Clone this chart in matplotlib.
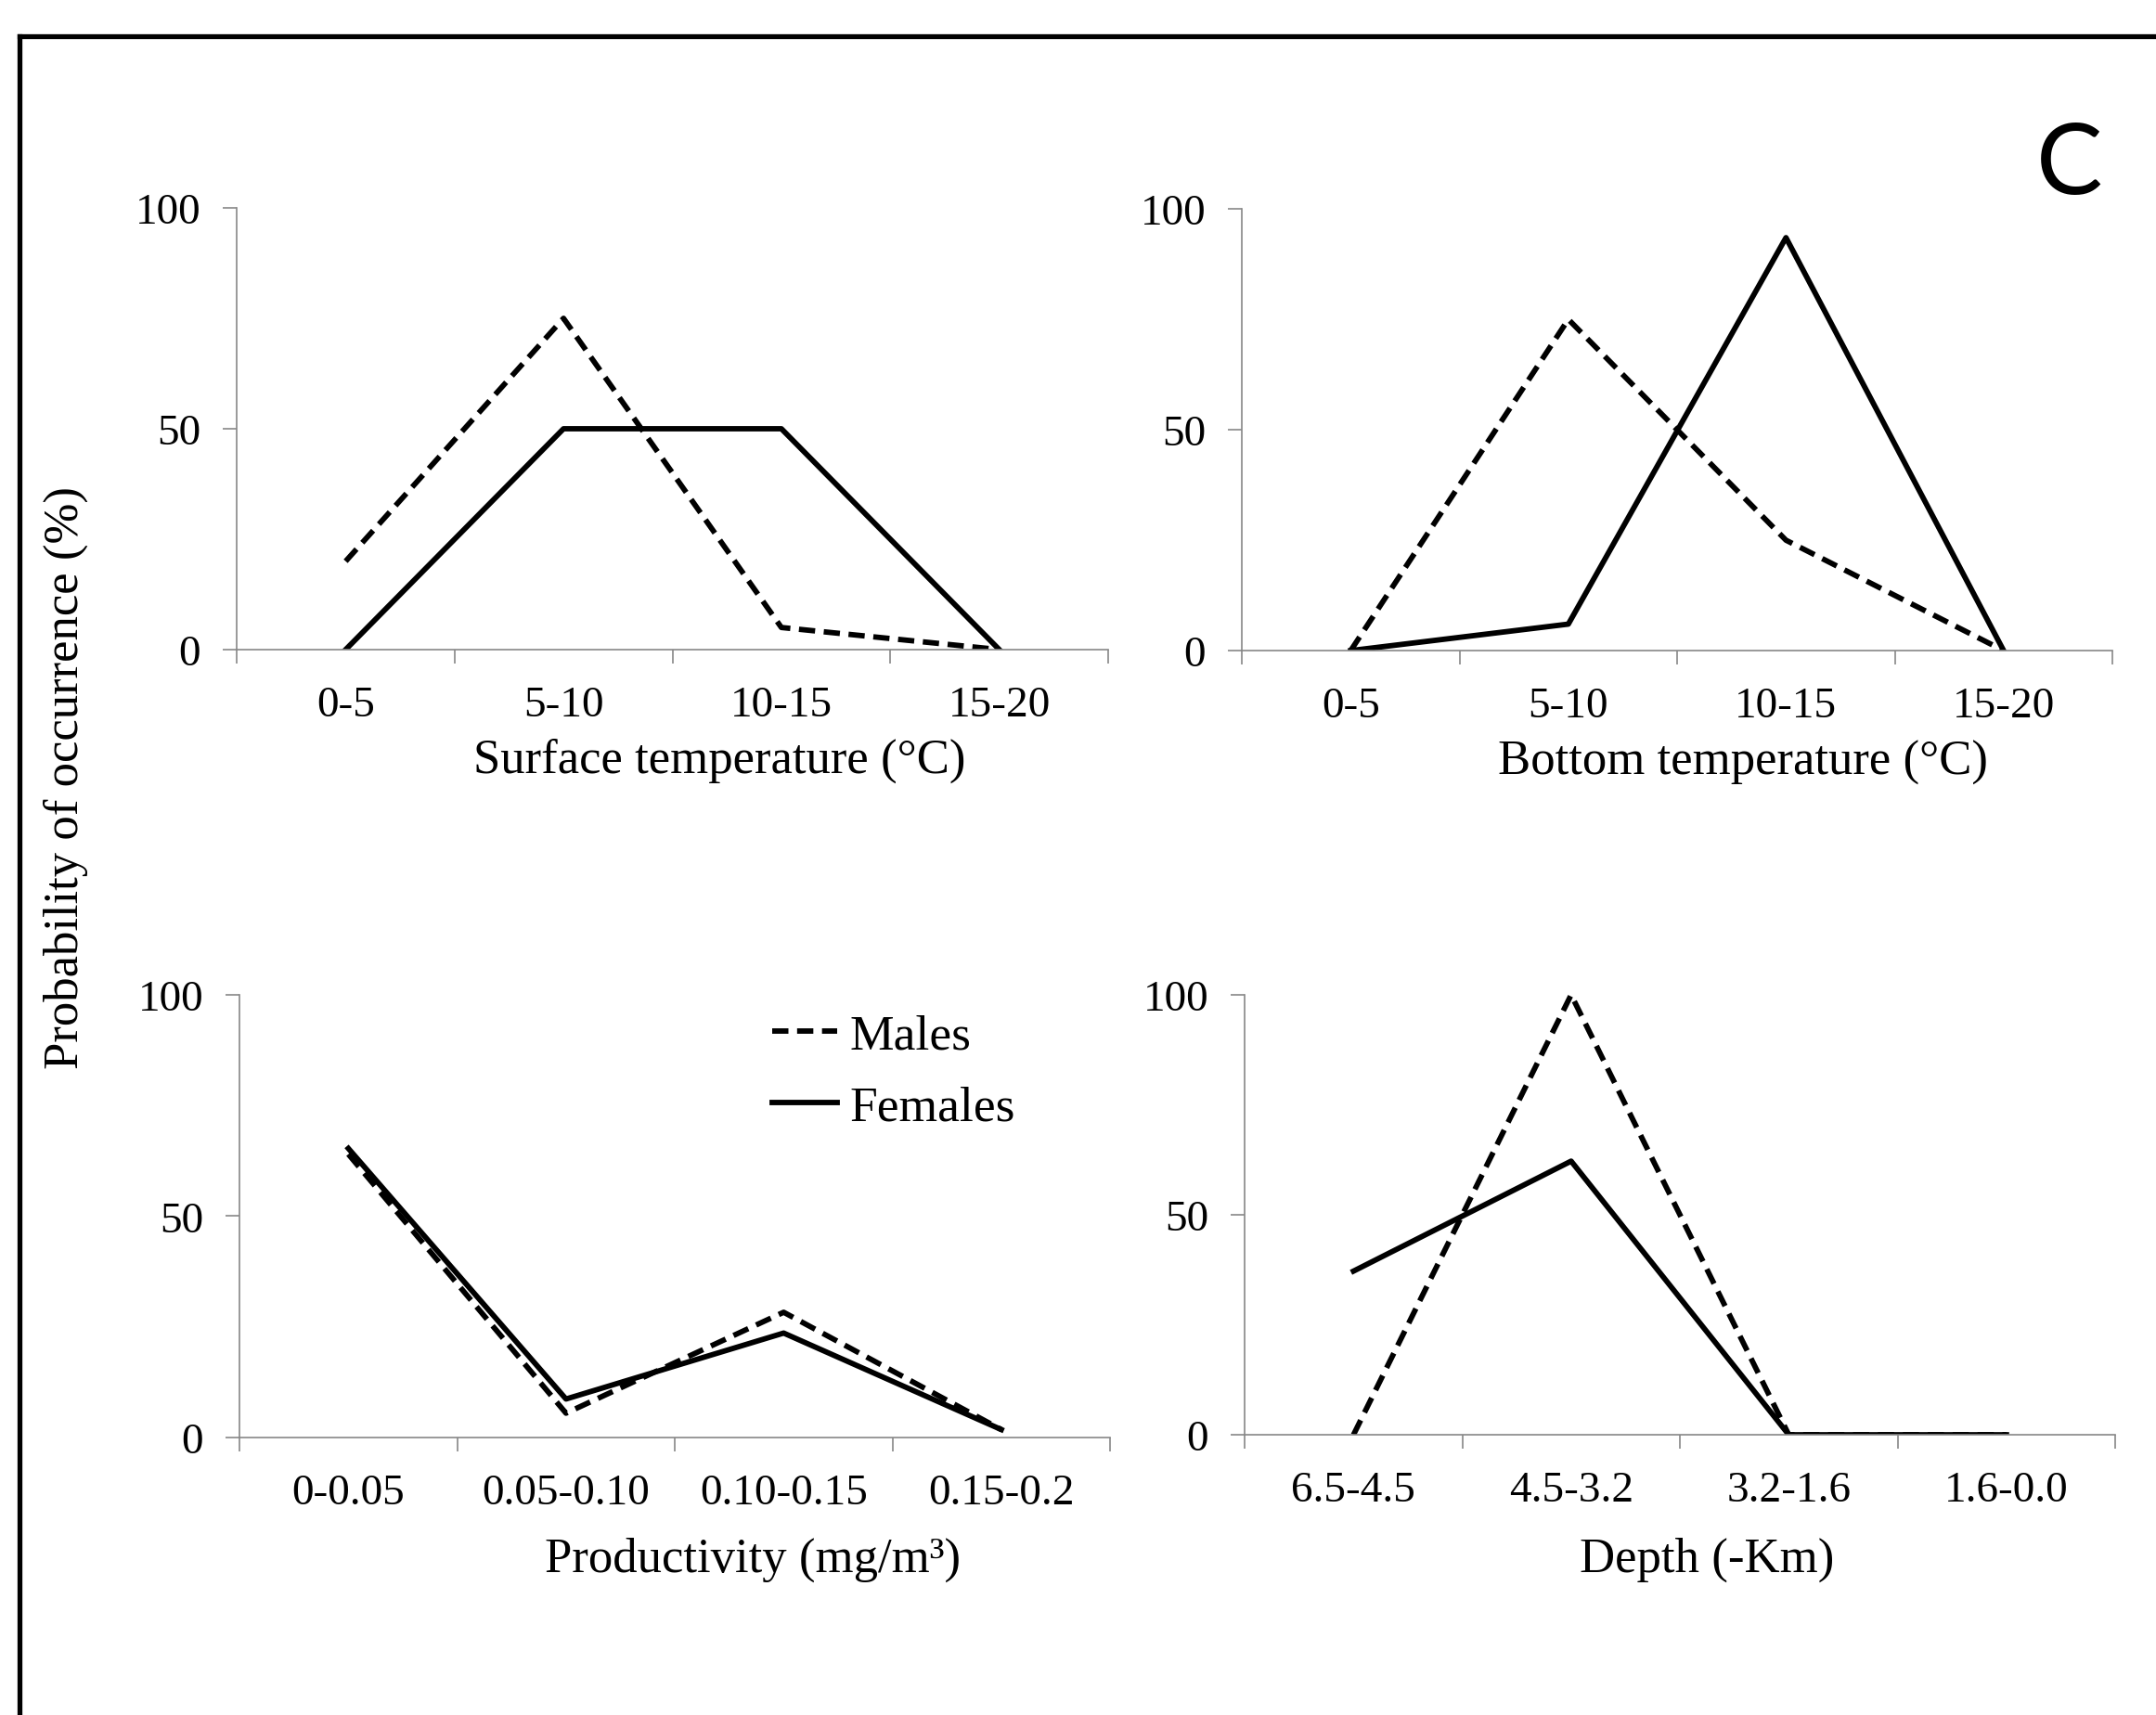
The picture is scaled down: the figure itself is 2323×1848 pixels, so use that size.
import matplotlib
matplotlib.use('Agg')
import matplotlib.pyplot as plt
from matplotlib.lines import Line2D
import numpy as np

# Datos (probabilidad de ocurrencia, %)
surface_cats = ['0-5', '5-10', '10-15', '15-20']
surface_males = [20, 75, 5, 0]
surface_females = [0, 50, 50, 0]

bottom_cats = ['0-5', '5-10', '10-15', '15-20']
bottom_males = [0, 75, 25, 0]
bottom_females = [0, 6, 93.5, 0]

prod_cats = ['0-0.05', '0.05-0.10', '0.10-0.15', '0.15-0.2']
prod_males = [64, 5.5, 28.3, 1.8]
prod_females = [65.3, 8.7, 23.6, 1.8]

depth_cats = ['6.5-4.5', '4.5-3.2', '3.2-1.6', '1.6-0.0']
depth_males = [0, 100, 0, 0]
depth_females = [37.2, 62.2, 0, 0]

plt.rcParams['font.family'] = ['Liberation Serif', 'DejaVu Serif']

fig = plt.figure(figsize=(23.23, 18.49), dpi=100)

axis_gray = '#888888'
lw = 4.2
dash = (0, (3.0, 1.6))

panels = [
    ([0.1098, 0.6209, 0.4042, 0.2574], surface_cats, surface_males, surface_females,
     'Surface temperature (°C)', 0.554, -0.250),
    ([0.5760, 0.6203, 0.4038, 0.2574], bottom_cats, bottom_males, bottom_females,
     'Bottom temperature (°C)', 0.576, -0.252),
    ([0.1111, 0.1617, 0.4038, 0.2580], prod_cats, prod_males, prod_females,
     'Productivity (mg/m³)', 0.590, -0.275),
    ([0.5773, 0.1633, 0.4038, 0.2564], depth_cats, depth_males, depth_females,
     'Depth (-Km)', 0.531, -0.282),
]

axes = []
for rect, cats, males, females, xlabel, xlab_x, xlab_y in panels:
    ax = fig.add_axes(rect)
    x = np.arange(len(cats)) + 0.5
    ax.plot(x, males, color='black', lw=lw, linestyle=dash, label='Males')
    ax.plot(x, females, color='black', lw=lw, label='Females')
    ax.set_xlim(0, len(cats))
    ax.set_ylim(0, 100)
    ax.set_yticks([0, 50, 100])
    ax.set_xticks(np.arange(len(cats) + 1))
    ax.set_xticklabels([])
    ax.set_xticks(x, minor=True)
    ax.set_xticklabels(cats, minor=True)
    ax.tick_params(axis='x', which='major', direction='out', length=11, width=1.2,
                   color=axis_gray)
    ax.tick_params(axis='x', which='minor', length=0, pad=28, labelsize=34)
    ax.tick_params(axis='y', direction='out', length=11, width=1.2, color=axis_gray,
                   pad=17, labelsize=34)
    for side in ['top', 'right']:
        ax.spines[side].set_visible(False)
    for side in ['left', 'bottom']:
        ax.spines[side].set_color(axis_gray)
        ax.spines[side].set_linewidth(1.2)
    ax.set_xlabel(xlabel, fontsize=38, va='center')
    ax.xaxis.set_label_coords(xlab_x, xlab_y)
    ax.set_facecolor('none')
    axes.append(ax)

# Leyenda en el panel de productividad
axes[2].legend(loc='center left', bbox_to_anchor=(0.612, 0.826), frameon=False,
               fontsize=38.5, handlelength=1.3, handletextpad=0.25, borderpad=0,
               borderaxespad=0, labelspacing=0.54)

fig.text(71 / 2323, 1 - 838 / 1849, 'Probability of occurrence (%)', rotation=90,
         ha='center', va='center', fontsize=38)

fig.text(2230 / 2323, 1 - 179 / 1849, 'C', ha='center', va='center', fontsize=77,
         family=['Lato', 'DejaVu Sans'])

# Marco (solo arriba e izquierda visibles)
ytop = 1 - 39.5 / 1849
xleft = 20.5 / 2323
fig.add_artist(Line2D([xleft, 1.0], [ytop, ytop], transform=fig.transFigure,
                      color='black', lw=3.8, solid_capstyle='projecting'))
fig.add_artist(Line2D([xleft, xleft], [0.0, ytop], transform=fig.transFigure,
                      color='black', lw=3.8, solid_capstyle='projecting'))

fig.savefig('out.png', dpi=100, facecolor='white')
